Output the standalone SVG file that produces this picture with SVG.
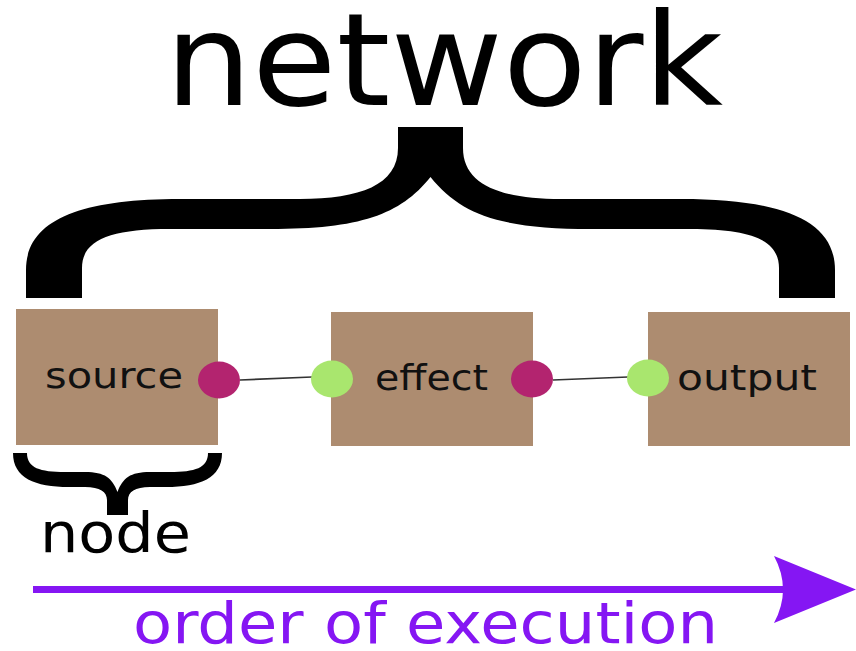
<svg xmlns="http://www.w3.org/2000/svg" width="856" height="651" viewBox="0 0 856 651">
<style>
text{font-family:"DejaVu Sans","Liberation Sans",sans-serif;}
.box{fill:#ad8c70;}
.lbl{font-size:36px;fill:#111;}
.out{fill:#b3246f;}
.in{fill:#a9e66e;}
.wire{stroke:#333;stroke-width:1.6;fill:none;}
.purple{fill:#8516f3;}
</style>
<rect width="856" height="651" fill="#fff"/>
<g id="title">
<text x="165" y="105" font-size="128" fill="#000" textLength="558" lengthAdjust="spacingAndGlyphs">network</text>
<path d="M398,127 L463,127 L463,148 C463,185 501,199 561,199 L681,199 C781,199 835,220 835,270 L835,298 L779,298 L779,268 C779,240 751,229 691,229 L591,229 C501,229 461,215 430.5,177 C400,215 360,229 270,229 L170,229 C110,229 82,240 82,268 L82,298 L26,298 L26,270 C26,220 80,199 180,199 L300,199 C360,199 398,185 398,148 Z" fill="#000"/>
</g>
<g id="connectors">
<line class="wire" x1="240" y1="380" x2="312" y2="377"/>
<line class="wire" x1="553" y1="380" x2="628" y2="377"/>
</g>
<g id="node-source">
<rect class="box" x="16" y="309" width="202" height="136"/>
<text class="lbl" x="45" y="388" textLength="138" lengthAdjust="spacingAndGlyphs">source</text>
<ellipse class="out" cx="219" cy="380" rx="21" ry="18.5"/>
</g>
<g id="node-effect">
<rect class="box" x="331" y="312" width="202" height="134"/>
<text class="lbl" x="375" y="390" textLength="113" lengthAdjust="spacingAndGlyphs">effect</text>
<ellipse class="in" cx="332" cy="379" rx="21" ry="18.5"/>
<ellipse class="out" cx="532" cy="379" rx="21" ry="18.5"/>
</g>
<g id="node-output">
<rect class="box" x="648" y="312" width="202" height="134"/>
<text class="lbl" x="677" y="390" textLength="140" lengthAdjust="spacingAndGlyphs">output</text>
<ellipse class="in" cx="648" cy="378" rx="21" ry="18.5"/>
</g>
<g id="node-label">
<path d="M13,453 L27,453 C27,468 40,472 65,472 L85,472 C105,472 112,478 117.5,492 C123,478 130,472 150,472 L170,472 C195,472 208,468 208,453 L222,453 C222,478 200,487 166,487 L150,487 C135,487 128,492 128,500 L128,515 L107,515 L107,500 C107,492 100,487 85,487 L69,487 C35,487 13,478 13,453 Z" fill="#000"/>
<text x="40" y="552" font-size="55" fill="#000" textLength="151" lengthAdjust="spacingAndGlyphs">node</text>
</g>
<g id="execution">
<rect class="purple" x="33" y="586" width="755" height="7"/>
<path class="purple" d="M856,589.5 L774,556 Q792,589.5 774,623 Z"/>
<text x="133" y="643" font-size="57" fill="#8516f3" textLength="585" lengthAdjust="spacingAndGlyphs">order of execution</text>
</g>
</svg>
